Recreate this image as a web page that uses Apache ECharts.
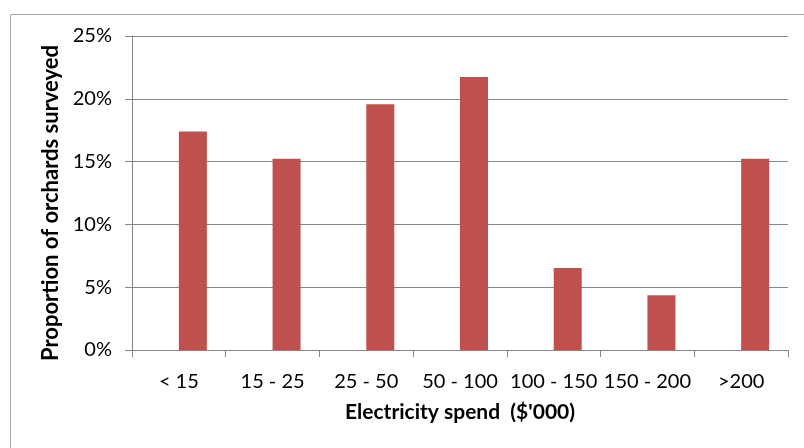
<!DOCTYPE html>
<html><head><meta charset="utf-8">
<script src="https://cdn.jsdelivr.net/npm/echarts@6/dist/echarts.min.js"></script>
<style>html,body{margin:0;padding:0;background:#fff}#c{width:804px;height:448px}</style>
</head><body><div id="c"></div>
<script>
const categories = ['< 15', '15 - 25', '25 - 50', '50 - 100', '100 - 150', '150 - 200', '>200'];
const proportions = [17.39, 15.22, 19.57, 21.74, 6.52, 4.35, 15.22];
const emptySeries = [null, null, null, null, null, null, null];
const yTicks = [0, 5, 10, 15, 20, 25];

const chart = echarts.init(document.getElementById('c'), null, {renderer: 'canvas'});
const font = 'Lato, "Open Sans", sans-serif';
chart.setOption({
  animation: false,
  graphic: [{
    type: 'rect', left: 8, top: 12, shape: {x: 0, y: 0, width: 820, height: 460},
    style: {fill: 'none', stroke: '#a6a6a6', lineWidth: 1}, silent: true
  }],
  grid: {left: 132, right: 16, top: 36, bottom: 98, containLabel: false},
  xAxis: {
    type: 'category', data: categories,
    name: "Electricity spend  ($'000)", nameLocation: 'middle', nameGap: 52,
    nameTextStyle: {fontFamily: font, fontSize: 21, fontWeight: 'bold', color: '#000'},
    axisLine: {lineStyle: {color: '#868686', width: 1}},
    axisTick: {show: true, alignWithLabel: false, length: 7, lineStyle: {color: '#868686'}},
    axisLabel: {fontFamily: font, fontSize: 20, color: '#000', margin: 22, interval: 0}
  },
  yAxis: {
    type: 'value', min: yTicks[0], max: yTicks[yTicks.length - 1], interval: 5,
    name: 'Proportion of orchards surveyed', nameLocation: 'middle', nameGap: 69,
    nameTextStyle: {fontFamily: font, fontSize: 22, fontWeight: 'bold', color: '#000', padding: [0, 20, 0, 0]},
    axisLine: {show: true, lineStyle: {color: '#868686', width: 1}},
    axisTick: {show: true, length: 7, lineStyle: {color: '#868686'}},
    splitLine: {lineStyle: {color: '#868686', width: 1}},
    axisLabel: {fontFamily: font, fontSize: 20, color: '#000', margin: 20, formatter: v => v + '%'}
  },
  series: [
    {type: 'bar', data: emptySeries, barWidth: 28, barGap: '0%', silent: true},
    {type: 'bar', data: proportions, barWidth: 28, barGap: '0%',
     itemStyle: {color: '#c0504d'}}
  ]
});
</script></body></html>
